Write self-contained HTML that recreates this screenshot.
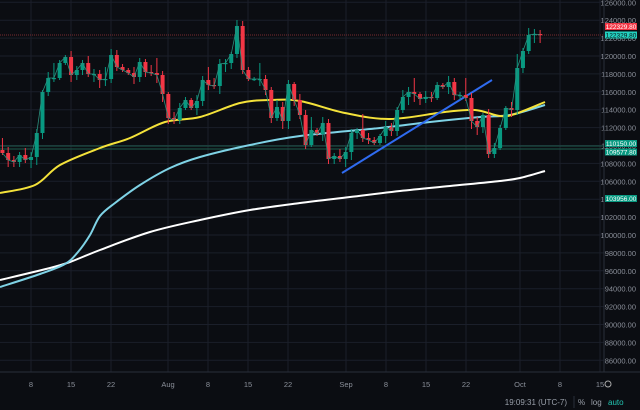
<!DOCTYPE html>
<html><head><meta charset="utf-8"><style>
html,body{margin:0;padding:0;background:#0b0d12;}
svg{display:block}
text{font-family:"Liberation Sans",sans-serif;}
</style></head><body>
<svg id="c" width="640" height="410" xmlns="http://www.w3.org/2000/svg"></svg>
<script>
const s=document.getElementById('c');let h='';
h+='<rect width="640" height="410" fill="#0b0d12"/>';
for(let p=126000;p>=86000;p-=2000){const y=56+(120000-p)/2000*17.9;
 h+=`<line x1="0" y1="${y}" x2="604" y2="${y}" stroke="#1b1f2a" stroke-width="1"/>`;
 h+=`<text x="636" y="${y+3}" font-size="7.5" fill="#8a8f99" text-anchor="end">${p}.00</text>`;}
const tl=[[31,'8'],[71,'15'],[111,'22'],[168,'Aug'],[208,'8'],[248,'15'],[288,'22'],[346,'Sep'],[386,'8'],[426,'15'],[466,'22'],[520,'Oct'],[560,'8'],[600,'15']];
tl.forEach(([x,t])=>{h+=`<line x1="${x}" y1="0" x2="${x}" y2="372" stroke="#1b1f2a"/>`;
 h+=`<text x="${x}" y="387" font-size="7.5" fill="#8a8f99" text-anchor="middle">${t}</text>`;});
h+='<line x1="604" y1="0" x2="604" y2="372" stroke="#2a2e39"/><line x1="0" y1="372" x2="640" y2="372" stroke="#2a2e39"/>';
h+='<line x1="0" y1="35" x2="604" y2="35" stroke="#7a2a30" stroke-dasharray="1,1"/>';
h+='<line x1="0" y1="146" x2="604" y2="146" stroke="#1d5a4c"/><line x1="0" y1="149" x2="604" y2="149" stroke="#1d5a4c"/>';
function pl(pts,c,w){h+=`<polyline fill="none" stroke="${c}" stroke-width="${w}" points="${pts.map(p=>p.join(',')).join(' ')}"/>`;}
function sm(p,c,w){let d=`M${p[0][0]},${p[0][1]}`;
 for(let i=0;i<p.length-1;i++){const p0=p[Math.max(0,i-1)],p1=p[i],p2=p[i+1],p3=p[Math.min(p.length-1,i+2)];
  d+=` C${p1[0]+(p2[0]-p0[0])/6},${p1[1]+(p2[1]-p0[1])/6} ${p2[0]-(p3[0]-p1[0])/6},${p2[1]-(p3[1]-p1[1])/6} ${p2[0]},${p2[1]}`;}
 h+=`<path d="${d}" fill="none" stroke="${c}" stroke-width="${w}" stroke-linejoin="round"/>`;}
sm([[0,280],[50,268],[70,262],[100,250],[150,232],[200,220],[250,210],[300,203],[350,197],[400,191],[450,186],[500,181],[520,178],[545,171]],'#ffffff',2);
sm([[0,287],[40,274],[65,264],[78,252],[90,235],[100,216],[115,203],[140,185],[170,168],[200,157],[250,145],[300,136],[380,128],[430,122],[480,117],[510,115],[545,105]],'#7fd3e6',2);
sm([[0,193],[35,185],[60,165],[100,148],[130,138],[165,122],[200,117],[240,103],[270,100],[300,101],[345,113],[390,119],[445,112],[475,110],[500,116],[515,114],[545,102]],'#f4e23a',2);
pl([[342,173],[492,80]],'#2f6bf0',2);
const C=[153,160,162,155,160,157,133,92,78,78,63,57,75,70,63,74,74,80,79,55,67,70,73,77,62,72,73,75,94,118,120,108,100,108,101,80,85,86,64,63,54,26,70,79,79,79,90,118,107,121,84,100,115,145,130,134,123,159,156,159,152,133,130,138,140,143,136,127,131,110,97,92,94,99,97,98,85,87,82,95,95,98,121,127,115,154,148,128,108,110,68,51,35,34,35];
let prev=150,line=[];
C.forEach((c,i)=>{const d=2+i,x=-9+5.72*d,o=prev;const up=c<=o;
 const col=up?'#089981':'#f23645';
 const r=((i*37)%11);const hi=Math.min(o,c)-2-r%6-(i%9==0?10:0),lo=Math.max(o,c)+2+(r*3)%7;
 h+=`<line x1="${x}" y1="${hi}" x2="${x}" y2="${lo}" stroke="${col}" stroke-width="1"/>`;
 const t=Math.min(o,c),b=Math.max(Math.abs(o-c),1.2);
 h+=`<rect x="${x-2}" y="${t}" width="4" height="${b}" fill="${col}"/>`;
 line.push([x,c]);prev=c;});
pl(line,'#2a8f7d',0.8);
function bd(y,txt,bg,fg){h+=`<rect x="605" y="${y}" width="32" height="7" fill="${bg}"/><text x="621" y="${y+5.8}" font-size="6.5" fill="${fg}" text-anchor="middle">${txt}</text>`;}
bd(23,'122329.80','#f23645','#fff');bd(31.5,'122329.80','#22d1c0','#0b0d12');
bd(140,'110150.00','#089981','#fff');bd(148.5,'109577.80','#089981','#fff');bd(195,'103956.00','#089981','#fff');
h+='<circle cx="608" cy="384" r="3" fill="none" stroke="#aaa" stroke-width="1"/>';
h+='<text x="567" y="405" font-size="8" fill="#9aa0aa" text-anchor="end">19:09:31 (UTC-7)</text>';
h+='<line x1="574" y1="396" x2="574" y2="408" stroke="#2a2e39"/>';
h+='<text x="578" y="405" font-size="8" fill="#9aa0aa">%</text><text x="591" y="405" font-size="8" fill="#9aa0aa">log</text><text x="608" y="405" font-size="8" fill="#22c4b0">auto</text>';
s.innerHTML=h;
</script>
</body></html>
